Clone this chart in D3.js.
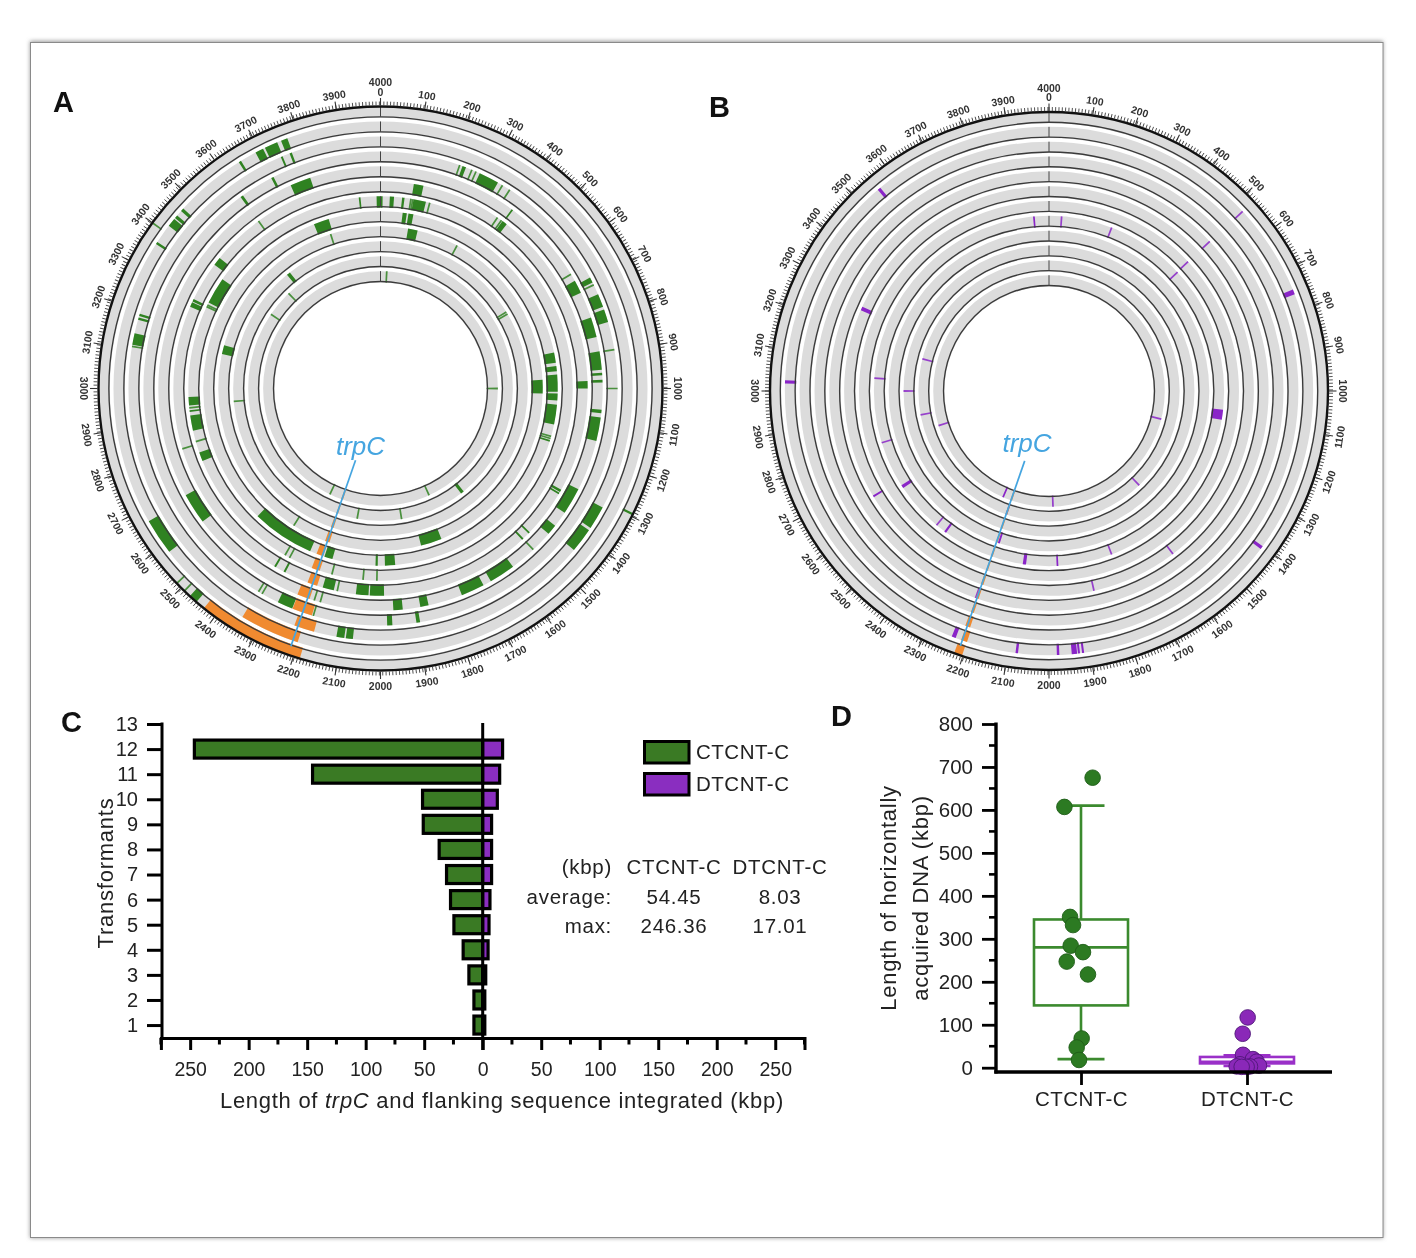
<!DOCTYPE html>
<html><head><meta charset="utf-8">
<script src="https://cdn.jsdelivr.net/npm/d3@7/dist/d3.min.js"></script>
<style>
html,body{margin:0;padding:0;background:#fff}
svg{display:block;filter:blur(0.45px)}
text{font-family:"Liberation Sans",Arial,sans-serif;fill:#222}
</style></head><body>
<svg id="chart" width="1416" height="1258"></svg>
<script>
// ---------- DATA ----------
const transformants = [12,11,10,9,8,7,6,5,4,3,2,1];
const ctcntFlank = [246.4,145.4,51.4,50.8,37.2,30.9,27.5,24.6,16.7,11.8,7.5,7.5];
const dtcntFlank = [17,14.5,12.5,7.6,7.6,7.6,6.2,5.4,4.6,2.6,1.8,1.8];

// horizontally acquired segments per ring (kbp, outer ring first)
const greenA = [
 [[1292,1297],[2453,2473],[2488,2492],[2512,2516],[3398,3402]],
 [[3757,3773],[3715,3747],[3690,3710],[3644,3650],[3463,3471],[3441,3449],[3417,3438],[3364,3370],[2581,2669]],
 [[3765,3771],[3741,3746],[3176,3182],[3186,3192],[3111,3141],[3105,3109],[2070,2088],[2092,2112],[1313,1373],[1380,1443]],
 [[3695,3702],[3598,3606],[215,219],[225,235],[250,254],[262,266],[275,330],[342,346],[365,369],[690,705],[710,714],[740,776],[784,819],[893,897],[998,1002],[1893,1903],[1968,1982],[2243,2285],[2181,2185],[2331,2335],[2342,2346]],
 [[3735,3795],[402,407],[654,658],[678,716],[793,851],[893,946],[955,962],[975,983],[1061,1071],[1083,1152],[1300,1378],[1424,1454],[1515,1519],[1593,1669],[1693,1761],[1936,1963],[1861,1885],[2591,2681],[2191,2195],[2173,2177]],
 [[103,133],[380,384],[395,399],[401,417],[977,1000],[1325,1333],[1336,1341],[1488,1493],[1515,1521],[1989,2033],[2037,2076],[2132,2136],[2145,2180],[2304,2310],[2337,2343],[3258,3273],[3276,3284],[3408,3434],[3597,3601],[2810,2814]],
 [[3987,4000],[0,7],[31,45],[72,80],[100,103],[106,109],[110,152],[163,167],[3928,3933],[3295,3385],[3278,3282],[3284,3288],[2944,2972],[2922,2928],[2934,2938],[2859,2910],[2820,2824],[2754,2784],[2161,2165],[2056,2060],[2010,2014],[2329,2333],[2312,2316]],
 [[3755,3811],[80,95],[101,119],[870,907],[919,938],[950,1012],[1018,1043],[1058,1130],[1172,1176],[1180,1184],[1188,1194],[1947,1984],[2010,2018],[2260,2488],[2175,2205]],
 [[3799,3803],[3136,3172],[109,147],[311,315],[966,1020],[1755,1839],[2357,2361]],
 [[3562,3578],[650,654],[660,664],[2942,2946]],
 [[3509,3513],[3377,3381],[1567,1583],[1896,1900],[2111,2115]],
 [[32,36],[998,1002],[1726,1730],[2282,2286]]
];
const orangeA = [[2185,2431],[2201,2346],[2170,2222],[2187,2242],[2207,2244],[2198,2229],[2205,2233],[2210,2235],[2204,2222],[2207,2219],[2209,2216],[2209,2216]];

const purpleB = [
 [],
 [[3551,3559],[3018,3026],[2230,2240],[749,761],[522,526],[1400,1408],[2075,2081],[1975,1981],[1932,1945],[1925,1930],[1915,1920]],
 [],[],
 [[521,525],[2215,2219]],
 [[3258,3270],[2653,2659],[1584,1588],[1857,1861]],
 [[521,525]],
 [[2807,2811],[2626,2638],[2442,2446],[2400,2408],[2084,2096],[1966,1972],[1765,1769],[523,527],[231,235],[44,48],[3942,3948],[3045,3049],[1068,1105]],
 [[2199,2207]],
 [[2998,3002]],
 [[2881,2885],[2210,2214],[1512,1516],[3156,3160]],
 [[2805,2809],[2256,2264],[1976,1980],[1154,1158]]
];
const orangeB = [[2202,2221],[2201,2216],[2205,2218],[2208,2216],[2208,2216],[2208,2216],[2209,2215],[2209,2215],[2209,2214],[2210,2213],[2211,2213],[2211,2213]];

const kbTicksMajor = d3.range(0,4000,100);
const kbTicksMinor = d3.range(0,4000,7.5);

const tableHeader = ["(kbp)","CTCNT-C","DTCNT-C"];
const tableRows = [["average:","54.45","8.03"],["max:","246.36","17.01"]];

const groupsD = ["CTCNT-C","DTCNT-C"];
const ctcntHgt = [675,607,351,332,284,269,247,217,68,47,18];
const ctcntJit = [.07,-.10,-.066,-.048,-.062,.012,-.086,.042,.004,-.026,-.012];
const dtcntHgt = [117,79,30,20,14,8,5,3,3,2,2];
const dtcntJit = [.004,-.026,-.024,.036,.058,-.042,.072,.018,-.062,-.002,-.032];
const boxStats = [{lo:20,q1:145,med:280,q3:345,hi:610},{lo:4,q1:10,med:14,q3:25,hi:29}];

// ---------- STYLE ----------
const GREEN="#2f8221", ORANGE="#f08a30", PURPLE="#8a25c8", BLUE="#45a5e0",
      BAR_G="#3a7a24", BAR_P="#8a2ec0", RING="#dcdcdc";
const svg=d3.select("#chart");
const defs=svg.append("defs");
defs.append("filter").attr("id","sh").attr("x","-5%").attr("y","-5%").attr("width","110%").attr("height","110%")
  .append("feGaussianBlur").attr("stdDeviation",2.2);

// page frame
svg.append("rect").attr("x",30).attr("y",41).attr("width",1353).attr("height",1197).attr("fill","#999").attr("filter","url(#sh)");
svg.append("rect").attr("x",30.5).attr("y",42.5).attr("width",1352.5).attr("height",1195).attr("fill","#fff").attr("stroke","#8a8a8a").attr("stroke-width",1);

// ---------- CIRCULAR PANELS ----------
function circular(cx,cy,R,r0,segments,segColor,oranges,lineIn,lineOut,label){
  const g=svg.append("g").attr("transform",`translate(${cx},${cy})`);
  const ang=d3.scaleLinear().domain([0,4000]).range([0,2*Math.PI]);
  const ringIdx=d3.range(12);
  const band=d3.scaleBand().domain(ringIdx).range([R,r0]).paddingInner(0.24);
  const outer=i=>band(i)+band.bandwidth();
  const inner=i=>band(i);
  const arc=d3.arc();
  // a segment is never drawn thinner than a hairline in pixels
  const segArc=(i,d)=>{
    const rm=(inner(i)+outer(i))/2, a0=ang(d[0]), a1=ang(d[1]), mid=(a0+a1)/2,
          half=Math.max((a1-a0)/2,0.85/rm);
    return arc({innerRadius:inner(i),outerRadius:outer(i),startAngle:mid-half,endAngle:mid+half});
  };
  ringIdx.forEach(i=>{
    g.append("path").attr("d",arc({innerRadius:inner(i),outerRadius:outer(i),startAngle:0,endAngle:2*Math.PI})).attr("fill",RING);
  });
  ringIdx.forEach(i=>{
    g.selectAll(null).data(segments[i]).join("path")
      .attr("d",d=>segArc(i,d))
      .attr("fill",segColor).attr("opacity",d=>d[1]-d[0]<=4?0.85:1);
    g.append("path").attr("d",segArc(i,oranges[i])).attr("fill",ORANGE);
  });
  ringIdx.forEach(i=>{
    g.append("circle").attr("r",inner(i)+1).attr("fill","none").attr("stroke","#3a3a3a").attr("stroke-width",1.35);
    g.append("line").attr("y1",-inner(i)-1).attr("y2",-outer(i)).attr("stroke","#444").attr("stroke-width",1);
  });
  g.append("circle").attr("r",R).attr("fill","none").attr("stroke","#111").attr("stroke-width",2.4);
  // scale ticks
  g.selectAll(null).data(kbTicksMinor).join("line")
    .attr("transform",d=>`rotate(${ang(d)*180/Math.PI})`)
    .attr("y1",-R-1).attr("y2",-R-5)
    .attr("stroke","#444").attr("stroke-width",0.9);
  g.selectAll(null).data(kbTicksMajor).join("line")
    .attr("transform",d=>`rotate(${ang(d)*180/Math.PI})`)
    .attr("y1",-R-1).attr("y2",-R-8.5)
    .attr("stroke","#333").attr("stroke-width",1.1);
  // scale labels
  const labR=R+15;
  g.selectAll(null).data(kbTicksMajor).join("text")
    .attr("transform",d=>{
      const t=ang(d)*180/Math.PI, a=(t<=90||t>270)?t:t-180;
      const x=labR*Math.sin(ang(d)), y=-labR*Math.cos(ang(d));
      return `translate(${x},${y}) rotate(${a})`;
    })
    .attr("text-anchor","middle").attr("dominant-baseline","central")
    .attr("font-size",10.5).attr("font-weight","bold").style("fill","#333").text(d=>d);
  g.append("text").attr("y",-R-24.5).attr("text-anchor","middle").attr("dominant-baseline","central")
    .attr("font-size",10.5).attr("font-weight","bold").style("fill","#333").text("4000");
  // trpC
  const pos=2213;
  g.append("line")
    .attr("x1",lineIn*Math.sin(ang(pos))).attr("y1",-lineIn*Math.cos(ang(pos)))
    .attr("x2",lineOut*Math.sin(ang(pos))).attr("y2",-lineOut*Math.cos(ang(pos)))
    .attr("stroke",BLUE).attr("stroke-width",1.7);
  g.append("text").attr("x",label[0]).attr("y",label[1]).attr("text-anchor","middle")
    .attr("font-size",26).attr("font-style","italic").style("fill",BLUE).text("trpC");
}
circular(380.5,388.5,282,106,greenA,GREEN,orangeA,76,273,[-20,66]);
circular(1049,391,279,104.5,purpleB,PURPLE,orangeB,74,270,[-22,61]);

// panel letters
[["A",53,112],["B",709,117],["C",61,732],["D",831,726]].forEach(d=>{
  svg.append("text").attr("x",d[1]).attr("y",d[2]).attr("font-size",29).attr("font-weight","bold").style("fill","#111").text(d[0]);
});

// ---------- PANEL C ----------
const xC=d3.scaleLinear().domain([-275,275]).range([160.9,804.5]);
const yC=d3.scaleLinear().domain([0.5,13]).range([1037.6,724]);
const FS=19.5, LS="0.7px";
const gC=svg.append("g");
const barH=18;
transformants.forEach((t,i)=>{
  gC.append("rect").attr("x",xC(-ctcntFlank[i])).attr("y",yC(t)-barH/2)
    .attr("width",xC(0)-xC(-ctcntFlank[i])).attr("height",barH)
    .attr("fill",BAR_G).attr("stroke","#000").attr("stroke-width",3.2);
  gC.append("rect").attr("x",xC(0)).attr("y",yC(t)-barH/2)
    .attr("width",xC(dtcntFlank[i])-xC(0)).attr("height",barH)
    .attr("fill",BAR_P).attr("stroke","#000").attr("stroke-width",3.2);
});
const axC=gC.append("g").attr("transform","translate(0,1038)")
  .call(d3.axisBottom(xC).tickValues(d3.range(-250,251,50)).tickSize(12).tickFormat(d=>Math.abs(d)).tickPadding(12));
axC.select(".domain").attr("stroke","#000").attr("stroke-width",3);
axC.selectAll(".tick line").attr("stroke","#000").attr("stroke-width",3);
axC.selectAll("text").attr("font-size",FS).style("font-family",'"Liberation Sans"').style("fill","#222");
gC.append("g").selectAll("line").data(d3.range(-275,276,50)).join("line")
  .attr("x1",d=>xC(d)).attr("x2",d=>xC(d)).attr("y1",1038).attr("y2",1044.5).attr("stroke","#000").attr("stroke-width",3);
const ayC=gC.append("g").attr("transform","translate(162,0)")
  .call(d3.axisLeft(yC).tickValues(d3.range(1,14)).tickSize(15).tickFormat(d=>d).tickPadding(9));
ayC.select(".domain").attr("stroke","#000").attr("stroke-width",3).attr("d",`M0,${yC(13)-1.5}V1039`);
ayC.selectAll(".tick line").attr("stroke","#000").attr("stroke-width",3);
ayC.selectAll("text").attr("font-size",20).style("fill","#222");
gC.append("line").attr("x1",xC(0)).attr("x2",xC(0)).attr("y1",723).attr("y2",1050).attr("stroke","#000").attr("stroke-width",3);
const tC=gC.append("text").attr("x",502).attr("y",1108).attr("text-anchor","middle").attr("font-size",22).style("letter-spacing","0.72px");
tC.append("tspan").text("Length of ");
tC.append("tspan").attr("font-style","italic").text("trpC");
tC.append("tspan").text(" and flanking sequence integrated (kbp)");
gC.append("text").attr("transform","translate(113,873) rotate(-90)").attr("text-anchor","middle").attr("font-size",22).style("letter-spacing","0.75px").text("Transformants");

// legend
[["CTCNT-C",BAR_G,741.5],["DTCNT-C",BAR_P,773.5]].forEach(d=>{
  gC.append("rect").attr("x",644.5).attr("y",d[2]).attr("width",44.5).attr("height",21.5)
    .attr("fill",d[1]).attr("stroke","#000").attr("stroke-width",3);
  gC.append("text").attr("x",696).attr("y",d[2]+17.5).attr("font-size",20.5).style("letter-spacing","0.5px").text(d[0]);
});
// table
const tblX=[612,674,780], tblY=[874,904,933];
tableHeader.forEach((s,i)=>gC.append("text").attr("x",tblX[i]).attr("y",tblY[0]).attr("text-anchor",i?"middle":"end").attr("font-size",20.5).style("letter-spacing",LS).text(s));
tableRows.forEach((r,j)=>r.forEach((s,i)=>gC.append("text").attr("x",tblX[i]).attr("y",tblY[j+1]).attr("text-anchor",i?"middle":"end").attr("font-size",20.5).style("letter-spacing",LS).text(s)));

// ---------- PANEL D ----------
const yD=d3.scaleLinear().domain([0,800]).range([1067.7,724]);
const xD=d3.scaleLinear().domain([0,1]).range([1081,1247]);
const gD=svg.append("g");
const colD=["#3b8a2e","#9a30c8"], ptD=["#2c7a22","#8a28b8"], ptS=["#1f5e18","#4f1678"];
const boxHalf=47, capHalf=23.5;
boxStats.forEach((b,i)=>{
  const cx=xD(i);
  const sg=gD.append("g").attr("stroke",colD[i]).attr("stroke-width",2.6).attr("fill","none");
  sg.append("line").attr("x1",cx).attr("x2",cx).attr("y1",yD(b.hi)).attr("y2",yD(b.q3));
  sg.append("line").attr("x1",cx).attr("x2",cx).attr("y1",yD(b.q1)).attr("y2",yD(b.lo));
  sg.append("line").attr("x1",cx-capHalf).attr("x2",cx+capHalf).attr("y1",yD(b.hi)).attr("y2",yD(b.hi));
  sg.append("line").attr("x1",cx-capHalf).attr("x2",cx+capHalf).attr("y1",yD(b.lo)).attr("y2",yD(b.lo));
  sg.append("rect").attr("x",cx-boxHalf).attr("width",2*boxHalf).attr("y",yD(b.q3)).attr("height",yD(b.q1)-yD(b.q3));
  sg.append("line").attr("x1",cx-boxHalf).attr("x2",cx+boxHalf).attr("y1",yD(b.med)).attr("y2",yD(b.med));
});
[[ctcntHgt,ctcntJit],[dtcntHgt,dtcntJit]].forEach((s,i)=>{
  gD.selectAll(null).data(s[0]).join("circle")
    .attr("cx",(d,j)=>xD(i+s[1][j])).attr("cy",d=>yD(d)).attr("r",7.8)
    .attr("fill",ptD[i]).attr("stroke",ptS[i]).attr("stroke-width",0.9);
});
const ayD=gD.append("g").attr("transform","translate(996,0)")
  .call(d3.axisLeft(yD).tickValues(d3.range(0,801,100)).tickSize(14).tickPadding(9));
ayD.select(".domain").attr("stroke","#000").attr("stroke-width",3.4).attr("d","M0,722.5V1073.5");
ayD.selectAll(".tick line").attr("stroke","#000").attr("stroke-width",2.8);
ayD.selectAll("text").attr("font-size",20.5).style("fill","#222");
gD.append("g").selectAll("line").data(d3.range(50,800,100)).join("line")
  .attr("x1",989).attr("x2",996).attr("y1",d=>yD(d)).attr("y2",d=>yD(d)).attr("stroke","#000").attr("stroke-width",2.6);
const axD=d3.scalePoint().domain(groupsD).range([xD(0),xD(1)]);
const axg=gD.append("g").attr("transform","translate(0,1072)").call(d3.axisBottom(axD).tickSize(13).tickPadding(6));
axg.select(".domain").attr("stroke","#000").attr("stroke-width",3.4).attr("d","M994.3,0H1332");
axg.selectAll(".tick line").attr("stroke","#000").attr("stroke-width",2.8);
axg.selectAll("text").attr("font-size",20.5).style("letter-spacing","0.45px").style("fill","#222");
[["Length of horizontally",896],["acquired DNA (kbp)",928]].forEach(d=>{
  gD.append("text").attr("transform",`translate(${d[1]},898) rotate(-90)`).attr("text-anchor","middle").attr("font-size",22).style("letter-spacing","0.75px").text(d[0]);
});
</script></body></html>
